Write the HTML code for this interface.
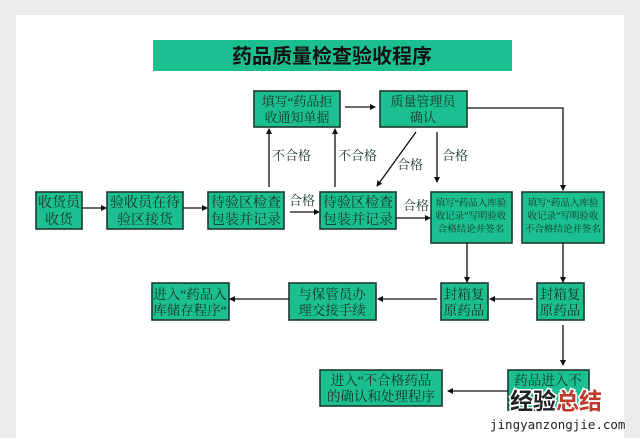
<!DOCTYPE html>
<html><head><meta charset="utf-8"><style>
html,body{margin:0;padding:0;background:#ececec;}
svg{display:block}
text{font-family:"Liberation Serif","Noto Serif CJK SC","Noto Sans CJK SC",serif;fill:#163326;}
.b{fill:#1cbf90;stroke:#1f3a30;stroke-width:1.6}
.l{stroke:#111;stroke-width:1.3;fill:none}
</style></head><body>
<svg width="640" height="438" viewBox="0 0 640 438" xmlns="http://www.w3.org/2000/svg">
<defs><marker id="a" markerWidth="6" markerHeight="6" refX="5" refY="3" orient="auto" markerUnits="userSpaceOnUse"><path d="M0,0 L6,3 L0,6 z" fill="#111"/></marker></defs>
<rect x="0" y="0" width="640" height="438" fill="#ebebeb"/>
<rect x="16" y="15" width="608" height="430" fill="#fff"/>
<rect x="153" y="40" width="359" height="31" fill="#1cc090"/>
<text x="332" y="63" font-size="20" font-weight="bold" text-anchor="middle" style="fill:#111;font-family:'Noto Sans CJK SC',sans-serif">药品质量检查验收程序</text>

<g class="bx">
<rect class="b" x="254" y="91" width="86" height="36"/>
<text x="297" y="106" font-size="13" text-anchor="middle">填写“药品拒</text><text x="297" y="122" font-size="13" text-anchor="middle">收通知单据</text>
<rect class="b" x="380" y="91" width="87" height="36"/>
<text x="423" y="106" font-size="13" text-anchor="middle">质量管理员</text><text x="423" y="122" font-size="13" text-anchor="middle">确认</text>
<rect class="b" x="36" y="192" width="46" height="37"/>
<text x="59" y="207" font-size="14" text-anchor="middle">收货员</text><text x="59" y="224" font-size="14" text-anchor="middle">收货</text>
<rect class="b" x="107" y="192" width="76" height="37"/>
<text x="145" y="207" font-size="14" text-anchor="middle">验收员在待</text><text x="145" y="224" font-size="14" text-anchor="middle">验区接货</text>
<rect class="b" x="208" y="192" width="76" height="37"/>
<text x="246" y="207" font-size="14" text-anchor="middle">待验区检查</text><text x="246" y="224" font-size="14" text-anchor="middle">包装并记录</text>
<rect class="b" x="320" y="192" width="76" height="37"/>
<text x="358" y="207" font-size="14" text-anchor="middle">待验区检查</text><text x="358" y="224" font-size="14" text-anchor="middle">包装并记录</text>
<rect class="b" x="431" y="192" width="81" height="51"/>
<text x="471" y="206" font-size="9.5" text-anchor="middle">填写“药品入库验</text><text x="471" y="219" font-size="9.5" text-anchor="middle">收记录”写明验收</text><text x="471" y="232" font-size="9.5" text-anchor="middle">合格结论并签名</text>
<rect class="b" x="522" y="192" width="82" height="51"/>
<text x="563" y="206" font-size="9.5" text-anchor="middle">填写“药品入库验</text><text x="563" y="219" font-size="9.5" text-anchor="middle">收记录”写明验收</text><text x="563" y="232" font-size="9.5" text-anchor="middle">不合格结论并签名</text>
<rect class="b" x="152" y="283" width="77" height="37"/>
<text x="190" y="299" font-size="13.5" text-anchor="middle">进入“药品入</text><text x="190" y="315" font-size="13.5" text-anchor="middle">库储存程序“</text>
<rect class="b" x="289" y="283" width="87" height="37"/>
<text x="332" y="299" font-size="13.5" text-anchor="middle">与保管员办</text><text x="332" y="315" font-size="13.5" text-anchor="middle">理交接手续</text>
<rect class="b" x="441" y="283" width="47" height="37"/>
<text x="464" y="299" font-size="13.5" text-anchor="middle">封箱复</text><text x="464" y="315" font-size="13.5" text-anchor="middle">原药品</text>
<rect class="b" x="537" y="283" width="47" height="37"/>
<text x="560" y="299" font-size="13.5" text-anchor="middle">封箱复</text><text x="560" y="315" font-size="13.5" text-anchor="middle">原药品</text>
<rect class="b" x="320" y="370" width="122" height="36"/>
<text x="381" y="385" font-size="13.5" text-anchor="middle">进入“不合格药品</text><text x="381" y="401" font-size="13.5" text-anchor="middle">的确认和处理程序</text>
<rect class="b" x="508" y="370" width="81" height="40"/>
<text x="548" y="385" font-size="13.5" text-anchor="middle">药品进入不</text>
</g>

<g class="l">
<line x1="345" y1="107" x2="375" y2="107" marker-end="url(#a)"/>
<polyline points="467,108 563,108 563,190" marker-end="url(#a)"/>
<line x1="416" y1="132" x2="377" y2="186" marker-end="url(#a)"/>
<line x1="437" y1="132" x2="437" y2="182" marker-end="url(#a)"/>
<line x1="269" y1="187" x2="269" y2="129" marker-end="url(#a)"/>
<line x1="335" y1="187" x2="335" y2="129" marker-end="url(#a)"/>
<line x1="82" y1="208" x2="106" y2="208" marker-end="url(#a)"/>
<line x1="183" y1="208" x2="207" y2="208" marker-end="url(#a)"/>
<line x1="290" y1="212" x2="319" y2="212" marker-end="url(#a)"/>
<line x1="396" y1="218" x2="430" y2="218" marker-end="url(#a)"/>
<line x1="467" y1="243" x2="467" y2="282" marker-end="url(#a)"/>
<line x1="563" y1="243" x2="563" y2="282" marker-end="url(#a)"/>
<line x1="533" y1="299" x2="490" y2="299" marker-end="url(#a)"/>
<line x1="437" y1="299" x2="378" y2="299" marker-end="url(#a)"/>
<line x1="289" y1="299" x2="230" y2="299" marker-end="url(#a)"/>
<line x1="563" y1="325" x2="563" y2="365" marker-end="url(#a)"/>
<line x1="508" y1="391" x2="448" y2="391" marker-end="url(#a)"/>
</g>

<g font-size="13">
<text x="272" y="160">不合格</text>
<text x="338" y="160">不合格</text>
<text x="397" y="169">合格</text>
<text x="442" y="160">合格</text>
<text x="289" y="205">合格</text>
<text x="403" y="210">合格</text>
</g>

<text x="510" y="409" font-size="23" font-weight="bold" style="font-family:'Noto Sans CJK SC',sans-serif;fill:#222;stroke:#fff;stroke-width:3;paint-order:stroke">经验<tspan style="fill:#c0392b">总结</tspan></text>
<text x="490" y="429" font-size="12.5" style="font-family:'DejaVu Sans Mono','Liberation Mono',monospace;fill:#222;stroke:#fff;stroke-width:2;paint-order:stroke">jingyanzongjie.com</text>
</svg>
</body></html>
